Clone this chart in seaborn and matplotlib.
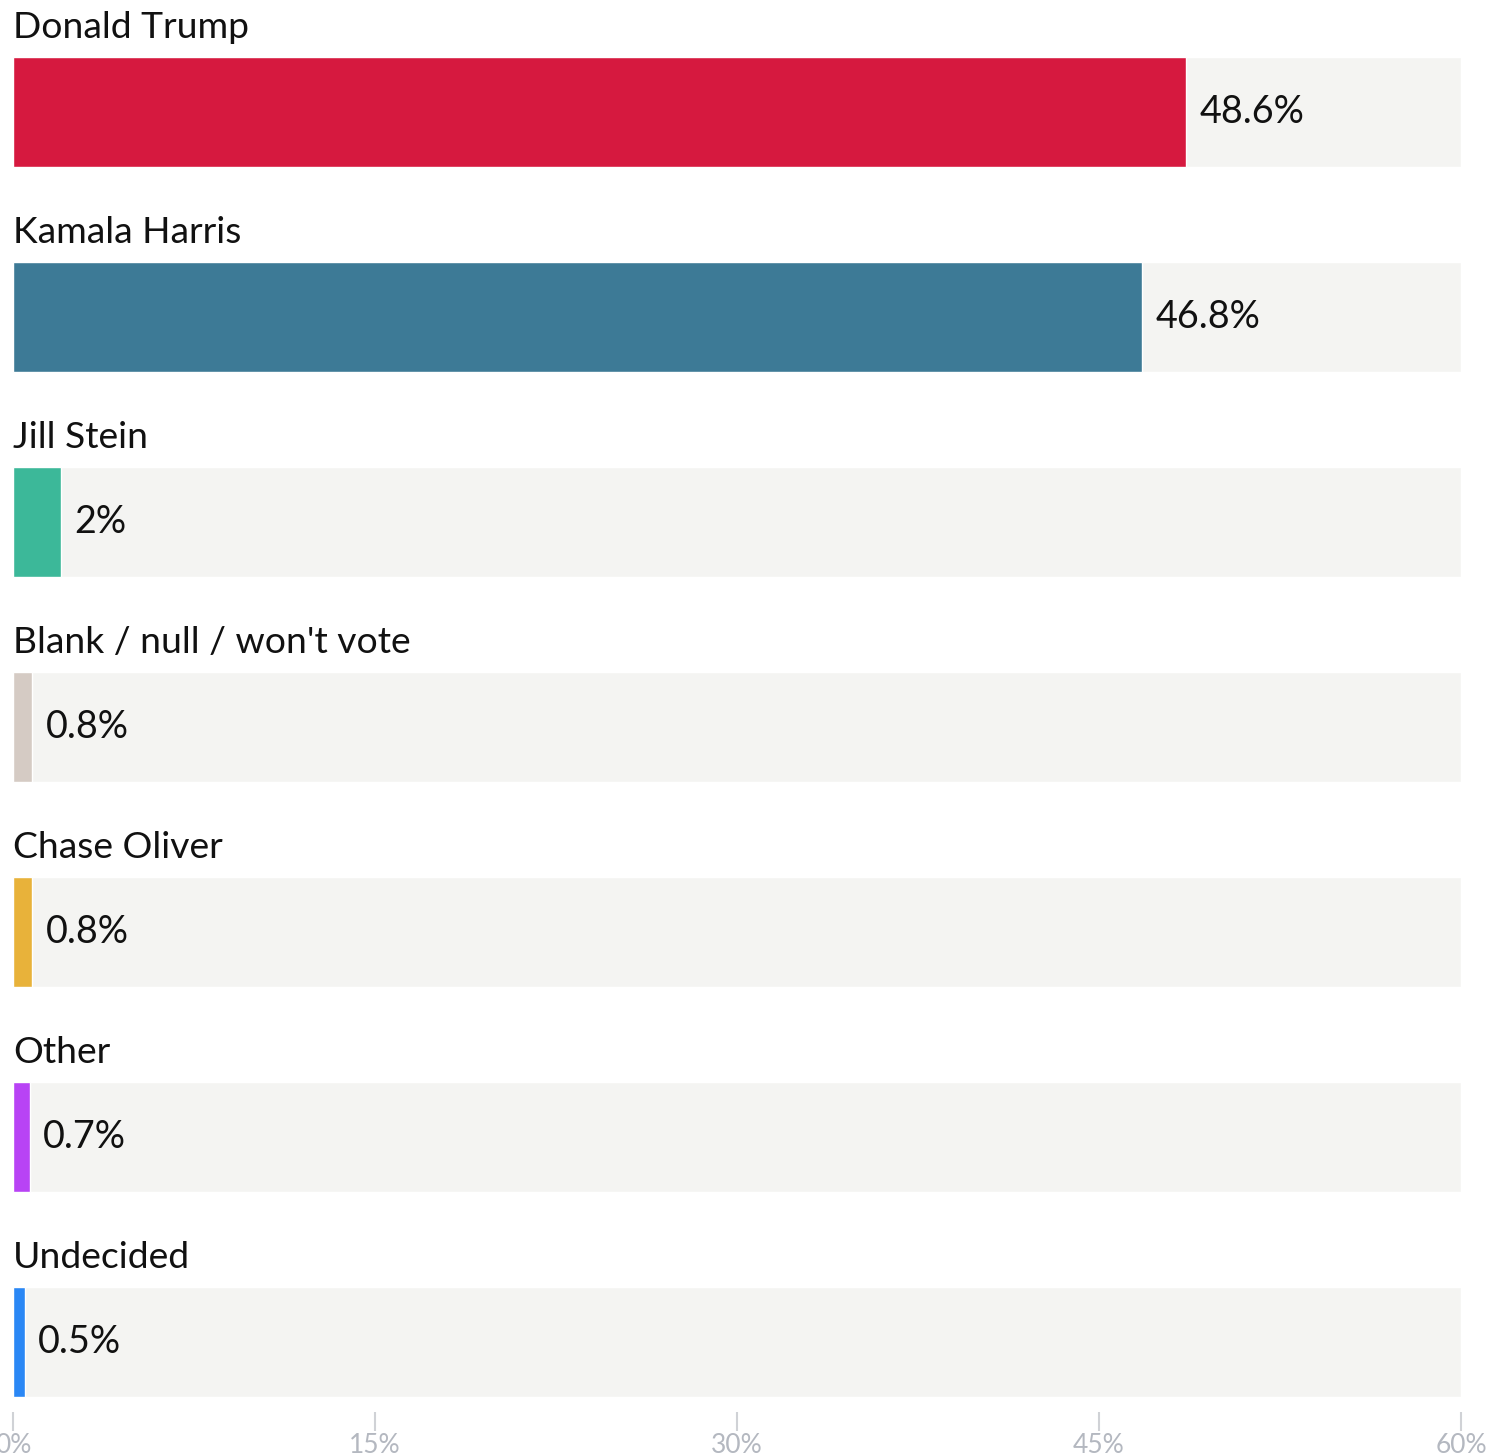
import matplotlib
matplotlib.use("Agg")
import matplotlib.pyplot as plt
import seaborn as sns
import pandas as pd

candidates = ["Donald Trump", "Kamala Harris", "Jill Stein", "Blank / null / won't vote",
              "Chase Oliver", "Other", "Undecided"]
values = [48.6, 46.8, 2, 0.8, 0.8, 0.7, 0.5]
value_labels = ["48.6%", "46.8%", "2%", "0.8%", "0.8%", "0.7%", "0.5%"]
colors = ["#d6193f", "#3d7a96", "#3cb899", "#d5cbc4", "#e8b23a", "#b843f5", "#2a87f5"]
axis_max = 60
tick_values = [0, 15, 30, 45, 60]
tick_labels = ["0%", "15%", "30%", "45%", "60%"]

sns.set_theme(style="white")
plt.rcParams['font.family'] = ['Lato', 'DejaVu Sans']

df = pd.DataFrame({"candidate": candidates, "value": values,
                   "full": [axis_max] * len(candidates)})

fig = plt.figure(figsize=(14.88, 14.55), dpi=100)
W, H = 1488, 1455
ax = fig.add_axes([13 / W, (H - 1412) / H, (1461 - 13) / W, 1412 / H])

bw = 110 / 205
sns.barplot(data=df, y="candidate", x="full", color="#f4f4f2", width=bw,
            orient="h", ax=ax, saturation=1)
sns.barplot(data=df, y="candidate", x="value", hue="candidate", palette=colors,
            width=bw, orient="h", ax=ax, legend=False, saturation=1)

for i, (name, v, lab) in enumerate(zip(candidates, values, value_labels)):
    ax.text(0.0, i - 0.361, name, fontsize=26.8, color="#111111",
            va="baseline", ha="left")
    ax.text(v + 0.55, i, lab, fontsize=27.2, color="#111111",
            va="center", ha="left")

ax.set_xlim(0, axis_max)
ax.set_ylim(6.34, -0.546)
ax.set_xticks(tick_values)
ax.set_xticklabels(tick_labels, fontsize=19, color="#b4b8c0")
ax.tick_params(axis="x", length=14, width=1.5, color="#d0d2d6", pad=1, bottom=True)
ax.set_yticks([])
ax.set_xlabel("")
ax.set_ylabel("")
for s in ax.spines.values():
    s.set_visible(False)

fig.savefig("out.png", dpi=100)
